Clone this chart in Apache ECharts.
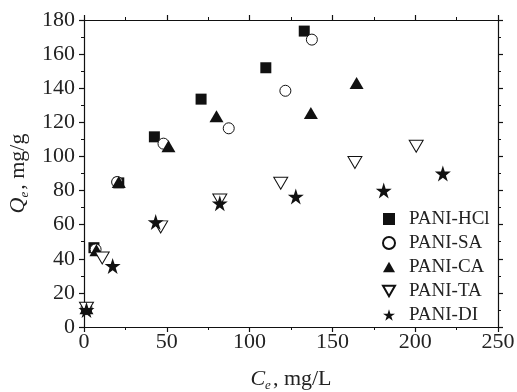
<!DOCTYPE html>
<html><head><meta charset="utf-8">
<script src="https://cdn.jsdelivr.net/npm/echarts@6/dist/echarts.min.js"></script>
<style>html,body{margin:0;padding:0;background:#fff}#c{width:517px;height:392px}</style>
</head><body><div id="c"></div>
<script>
var seriesNames = ['PANI-HCl','PANI-SA','PANI-CA','PANI-TA','PANI-DI'];
var hclX = [1.5, 6, 21, 42.5, 70.7, 109.8, 133];
var hclY = [11, 46.5, 84.5, 111.5, 133.6, 152, 173.5];
var saX = [1.5, 7, 20, 48, 87.4, 121.6, 137.6];
var saY = [11, 45.5, 85, 107.5, 116.5, 138.5, 168.5];
var caX = [1.5, 7.5, 21, 51, 80, 137, 164.6];
var caY = [11, 45, 85, 106, 123.5, 125.5, 143];
var taX = [1.5, 11, 46.3, 82, 118.8, 163.6, 200.6];
var taY = [11, 40.5, 58.7, 74.5, 84.3, 96.5, 106];
var diX = [1.5, 17.3, 43.3, 82, 127.9, 181, 216.7];
var diY = [10, 35.8, 61.5, 72.5, 76.5, 80, 90];
var xTicks = [0, 50, 100, 150, 200, 250];
var yTicks = [0, 20, 40, 60, 80, 100, 120, 140, 160, 180];

function pairs(xs, ys){ return xs.map(function(x,i){ return [x, ys[i]]; }); }
var FONT = '"Liberation Serif","Times New Roman",serif';
var STAR = 'path://M10,0 L12.25,6.91 L19.51,6.91 L13.63,11.18 L15.88,18.09 L10,13.82 L4.12,18.09 L6.37,11.18 L0.49,6.91 L7.75,6.91 Z';
var DOWN = 'path://M0,0 L12,0 L6,10.4 Z';
var UP = 'path://M6,0 L12,10.4 L0,10.4 Z';
var axisCommon = {
  axisLine:{show:true,onZero:false,lineStyle:{color:'#111',width:1.2}},
  axisTick:{show:true,inside:false,length:5,lineStyle:{color:'#111',width:1.2}},
  minorTick:{show:true,splitNumber:2,length:3,lineStyle:{color:'#111',width:1}},
  splitLine:{show:false}
};
function ax(extra){ return Object.assign({}, JSON.parse(JSON.stringify(axisCommon)), extra); }
var nameRich = {
  i:{fontFamily:FONT,fontSize:22,fontStyle:'italic',color:'#222'},
  s:{fontFamily:FONT,fontSize:13,fontStyle:'italic',color:'#222',padding:[12,2,0,0]},
  n:{fontFamily:FONT,fontSize:22,color:'#222'}
};
var chart = echarts.init(document.getElementById('c'));
var option = {
  animation:false,
  backgroundColor:'#fff',
  grid:{left:84,right:19,top:20,bottom:65,containLabel:false,outerBoundsMode:'none'},
  legend:{
    orient:'vertical', left:377, top:204,
    itemWidth:12, itemHeight:12, itemGap:4,
    textStyle:{fontFamily:FONT,fontSize:19,color:'#222',lineHeight:20,padding:[0,0,0,9]},
    data:seriesNames
  },
  xAxis:[
    ax({type:'value',position:'bottom',min:0,max:250,interval:50,
      axisLabel:{fontFamily:FONT,fontSize:22,color:'#222',margin:4,formatter:function(v){return xTicks.indexOf(v)>=0?String(v):'';}},
      name:'{i|C}{s|e}{n|, mg/L}', nameLocation:'middle', nameGap:40,
      nameTextStyle:{fontFamily:FONT,fontSize:22,color:'#222',rich:nameRich}
    }),
    ax({type:'value',position:'top',min:0,max:250,interval:50,axisLabel:{show:false}})
  ],
  yAxis:[
    ax({type:'value',position:'left',min:0,max:180,interval:20,
      axisLabel:{fontFamily:FONT,fontSize:22,color:'#222',margin:9,formatter:function(v){return yTicks.indexOf(v)>=0?String(v):'';}},
      name:'{i|Q}{s|e}{n|, mg/g}', nameLocation:'middle', nameGap:52, nameRotate:90,
      nameTextStyle:{fontFamily:FONT,fontSize:22,color:'#222',rich:nameRich}
    }),
    ax({type:'value',position:'right',min:0,max:180,interval:20,axisLabel:{show:false}})
  ],
  series:[
    {name:seriesNames[0],type:'scatter',symbol:'rect',symbolSize:11,
     itemStyle:{color:'#111',opacity:1},data:pairs(hclX,hclY),z:5},
    {name:seriesNames[1],type:'scatter',symbol:'circle',symbolSize:11,
     itemStyle:{color:'#fff',borderColor:'#111',borderWidth:1,opacity:1},data:pairs(saX,saY),z:6},
    {name:seriesNames[2],type:'scatter',symbol:UP,symbolSize:[14,12],
     itemStyle:{color:'#111',opacity:1},data:pairs(caX,caY),z:7},
    {name:seriesNames[3],type:'scatter',symbol:DOWN,symbolSize:[14,12],
     itemStyle:{color:'#fff',borderColor:'#111',borderWidth:1,opacity:1},data:pairs(taX,taY),z:8},
    {name:seriesNames[4],type:'scatter',symbol:STAR,symbolSize:16,
     itemStyle:{color:'#111',opacity:1},data:pairs(diX,diY),z:9}
  ]
};
chart.setOption(option);
</script></body></html>
